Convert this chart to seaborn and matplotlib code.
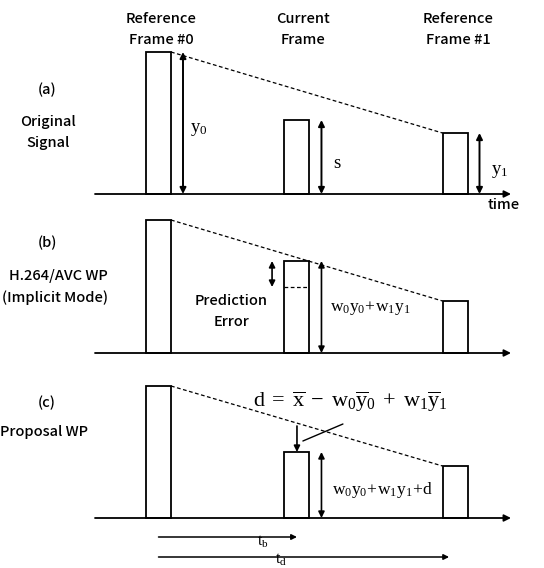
import numpy as np
import pandas as pd
import matplotlib
matplotlib.use('Agg')
import matplotlib.pyplot as plt
import seaborn as sns

sns.set_theme(style='white')
plt.rcParams['font.family'] = ['Noto Sans CJK JP', 'DejaVu Sans']
plt.rcParams['mathtext.fontset'] = 'custom'
plt.rcParams['mathtext.rm'] = 'Liberation Serif'
plt.rcParams['mathtext.it'] = 'Liberation Serif:italic'

# frame times (ref #0 at 0, ref #1 at 1) and signal heights per panel
frame_time = [0.0, 0.467, 1.0]
frame_names = ['Reference\nFrame #0', 'Current\nFrame', 'Reference\nFrame #1']
heights_a = [142, 74, 61]
heights_b = [133, 92, 52]
heights_c = [132, 66, 52]
pred_level_b = 66      # dashed level inside the current frame in (b)
panel_tags = ['(a)', '(b)', '(c)']
panel_names = ['Original\nSignal', 'H.264/AVC WP\n(Implicit Mode)', 'Proposal WP']

W, H = 544, 568
px_per_t = 296.5
x0_px = 158.5
bar_w = 25 / px_per_t
gap = 12 / px_per_t
baselines = [194, 353, 518]

fig = plt.figure(figsize=(W / 100, H / 100), dpi=100)

sans = dict(color='black', fontsize=10.5, ha='center', va='center',
            linespacing=1.55, fontweight='medium')
serif = dict(color='black', fontsize=12.5, ha='center', va='center')


def darrow(ax, x, y1, y2, style='<|-|>', lw=1.2):
    ax.annotate('', xy=(x, y2), xytext=(x, y1),
                arrowprops=dict(arrowstyle=style, color='black', lw=lw,
                                mutation_scale=9, shrinkA=0, shrinkB=0))


axes = []
for base, heights, tag in zip(baselines, [heights_a, heights_b, heights_c], panel_tags):
    ax = fig.add_axes([0, 0, 1, 1], facecolor='none')
    df = pd.DataFrame({'t': frame_time, 'h': heights})
    sns.barplot(data=df, x='t', y='h', native_scale=True, width=bar_w / frame_time[1],
                color='white', edgecolor='black', linewidth=1.3, errorbar=None,
                saturation=1, ax=ax)
    ax.set_xlim(-x0_px / px_per_t, (W - x0_px) / px_per_t)
    ax.set_ylim(-(H - base), base)
    ax.set_axis_off()

    # time axis
    ax.annotate('', xy=((511 - x0_px) / px_per_t, 0), xytext=((95 - x0_px) / px_per_t, 0),
                arrowprops=dict(arrowstyle='-|>', color='black', lw=1.3,
                                mutation_scale=10, shrinkA=0, shrinkB=0))
    # dashed line between the two reference frames
    ax.plot([frame_time[0] + bar_w / 2, frame_time[2] - bar_w / 2],
            [heights[0], heights[2]], color='black', lw=0.9, ls=(0, (3, 2)))

    ax.text(-0.376, {'(a)': 104, '(b)': 110, '(c)': 115}[tag], tag, **sans)
    axes.append(ax)

ax_a, ax_b, ax_c = axes

# (a) original signal
for t, nm, dx in zip(frame_time, frame_names, [0.008, 0.02, 0.01]):
    ax_a.text(t + dx, 164.5, nm, **sans)
ax_a.text(-0.372, 61.5, panel_names[0], **sans)
for t, h in zip(frame_time, heights_a):
    darrow(ax_a, t + bar_w / 2 + gap, 0, h, lw=1.4)
ax_a.text(0.135, 66, r'$\mathrm{y}_0$', **dict(serif, fontsize=13.5))
ax_a.text(0.602, 32, r'$\mathrm{s}$', **dict(serif, fontsize=13.5))
ax_a.text(1.152, 24, r'$\mathrm{y}_1$', **dict(serif, fontsize=13.5))
ax_a.text(1.165, -11, 'time', **sans)

# (b) H.264/AVC implicit WP
ax_b.text((108 - x0_px) / px_per_t, 66, panel_names[1],
          **dict(sans, ha='right', multialignment='right'))
ax_b.plot([frame_time[1] - bar_w / 2, frame_time[1] + bar_w / 2],
          [pred_level_b, pred_level_b], color='black', lw=0.9, ls=(0, (3, 2)))
darrow(ax_b, 0.383, pred_level_b, heights_b[1])
darrow(ax_b, frame_time[1] + bar_w / 2 + gap, 0, heights_b[1])
ax_b.text(0.245, 41.5, 'Prediction\nError', **sans)
ax_b.text(0.713, 45, r'$\mathrm{w}_0\mathrm{y}_0\!+\!\mathrm{w}_1\mathrm{y}_1$', **serif)

# (c) proposal WP
ax_c.text((88 - x0_px) / px_per_t, 86, panel_names[2], **dict(sans, ha='right'))
darrow(ax_c, frame_time[1], 92, heights_c[1], style='-|>')
ax_c.plot([0.487, 0.622], [77, 94], color='black', lw=1.0)
darrow(ax_c, frame_time[1] + bar_w / 2 + gap, 0, heights_c[1])
ax_c.text(0.646, 116,
          r'$\mathrm{d}\;=\;\overline{\mathrm{x}}\;-\;\mathrm{w}_0\overline{\mathrm{y}}_0\;+\;\mathrm{w}_1\overline{\mathrm{y}}_1$',
          **dict(serif, fontsize=16))
ax_c.text(0.754, 28, r'$\mathrm{w}_0\mathrm{y}_0\!+\!\mathrm{w}_1\mathrm{y}_1\!+\!\mathrm{d}$', **serif)
ax_c.annotate('', xy=(frame_time[1], -19), xytext=(0, -19),
              arrowprops=dict(arrowstyle='-|>', color='black', lw=1.1,
                              mutation_scale=8, shrinkA=0, shrinkB=0))
ax_c.annotate('', xy=(frame_time[2] - 0.02, -39), xytext=(0, -39),
              arrowprops=dict(arrowstyle='-|>', color='black', lw=1.1,
                              mutation_scale=8, shrinkA=0, shrinkB=0))
ax_c.text(0.353, -24, r'$\mathrm{t}_\mathrm{b}$', **dict(serif, fontsize=11.5))
ax_c.text(0.413, -42, r'$\mathrm{t}_\mathrm{d}$', **dict(serif, fontsize=11.5))

fig.savefig('out.png', dpi=100, facecolor='white')
